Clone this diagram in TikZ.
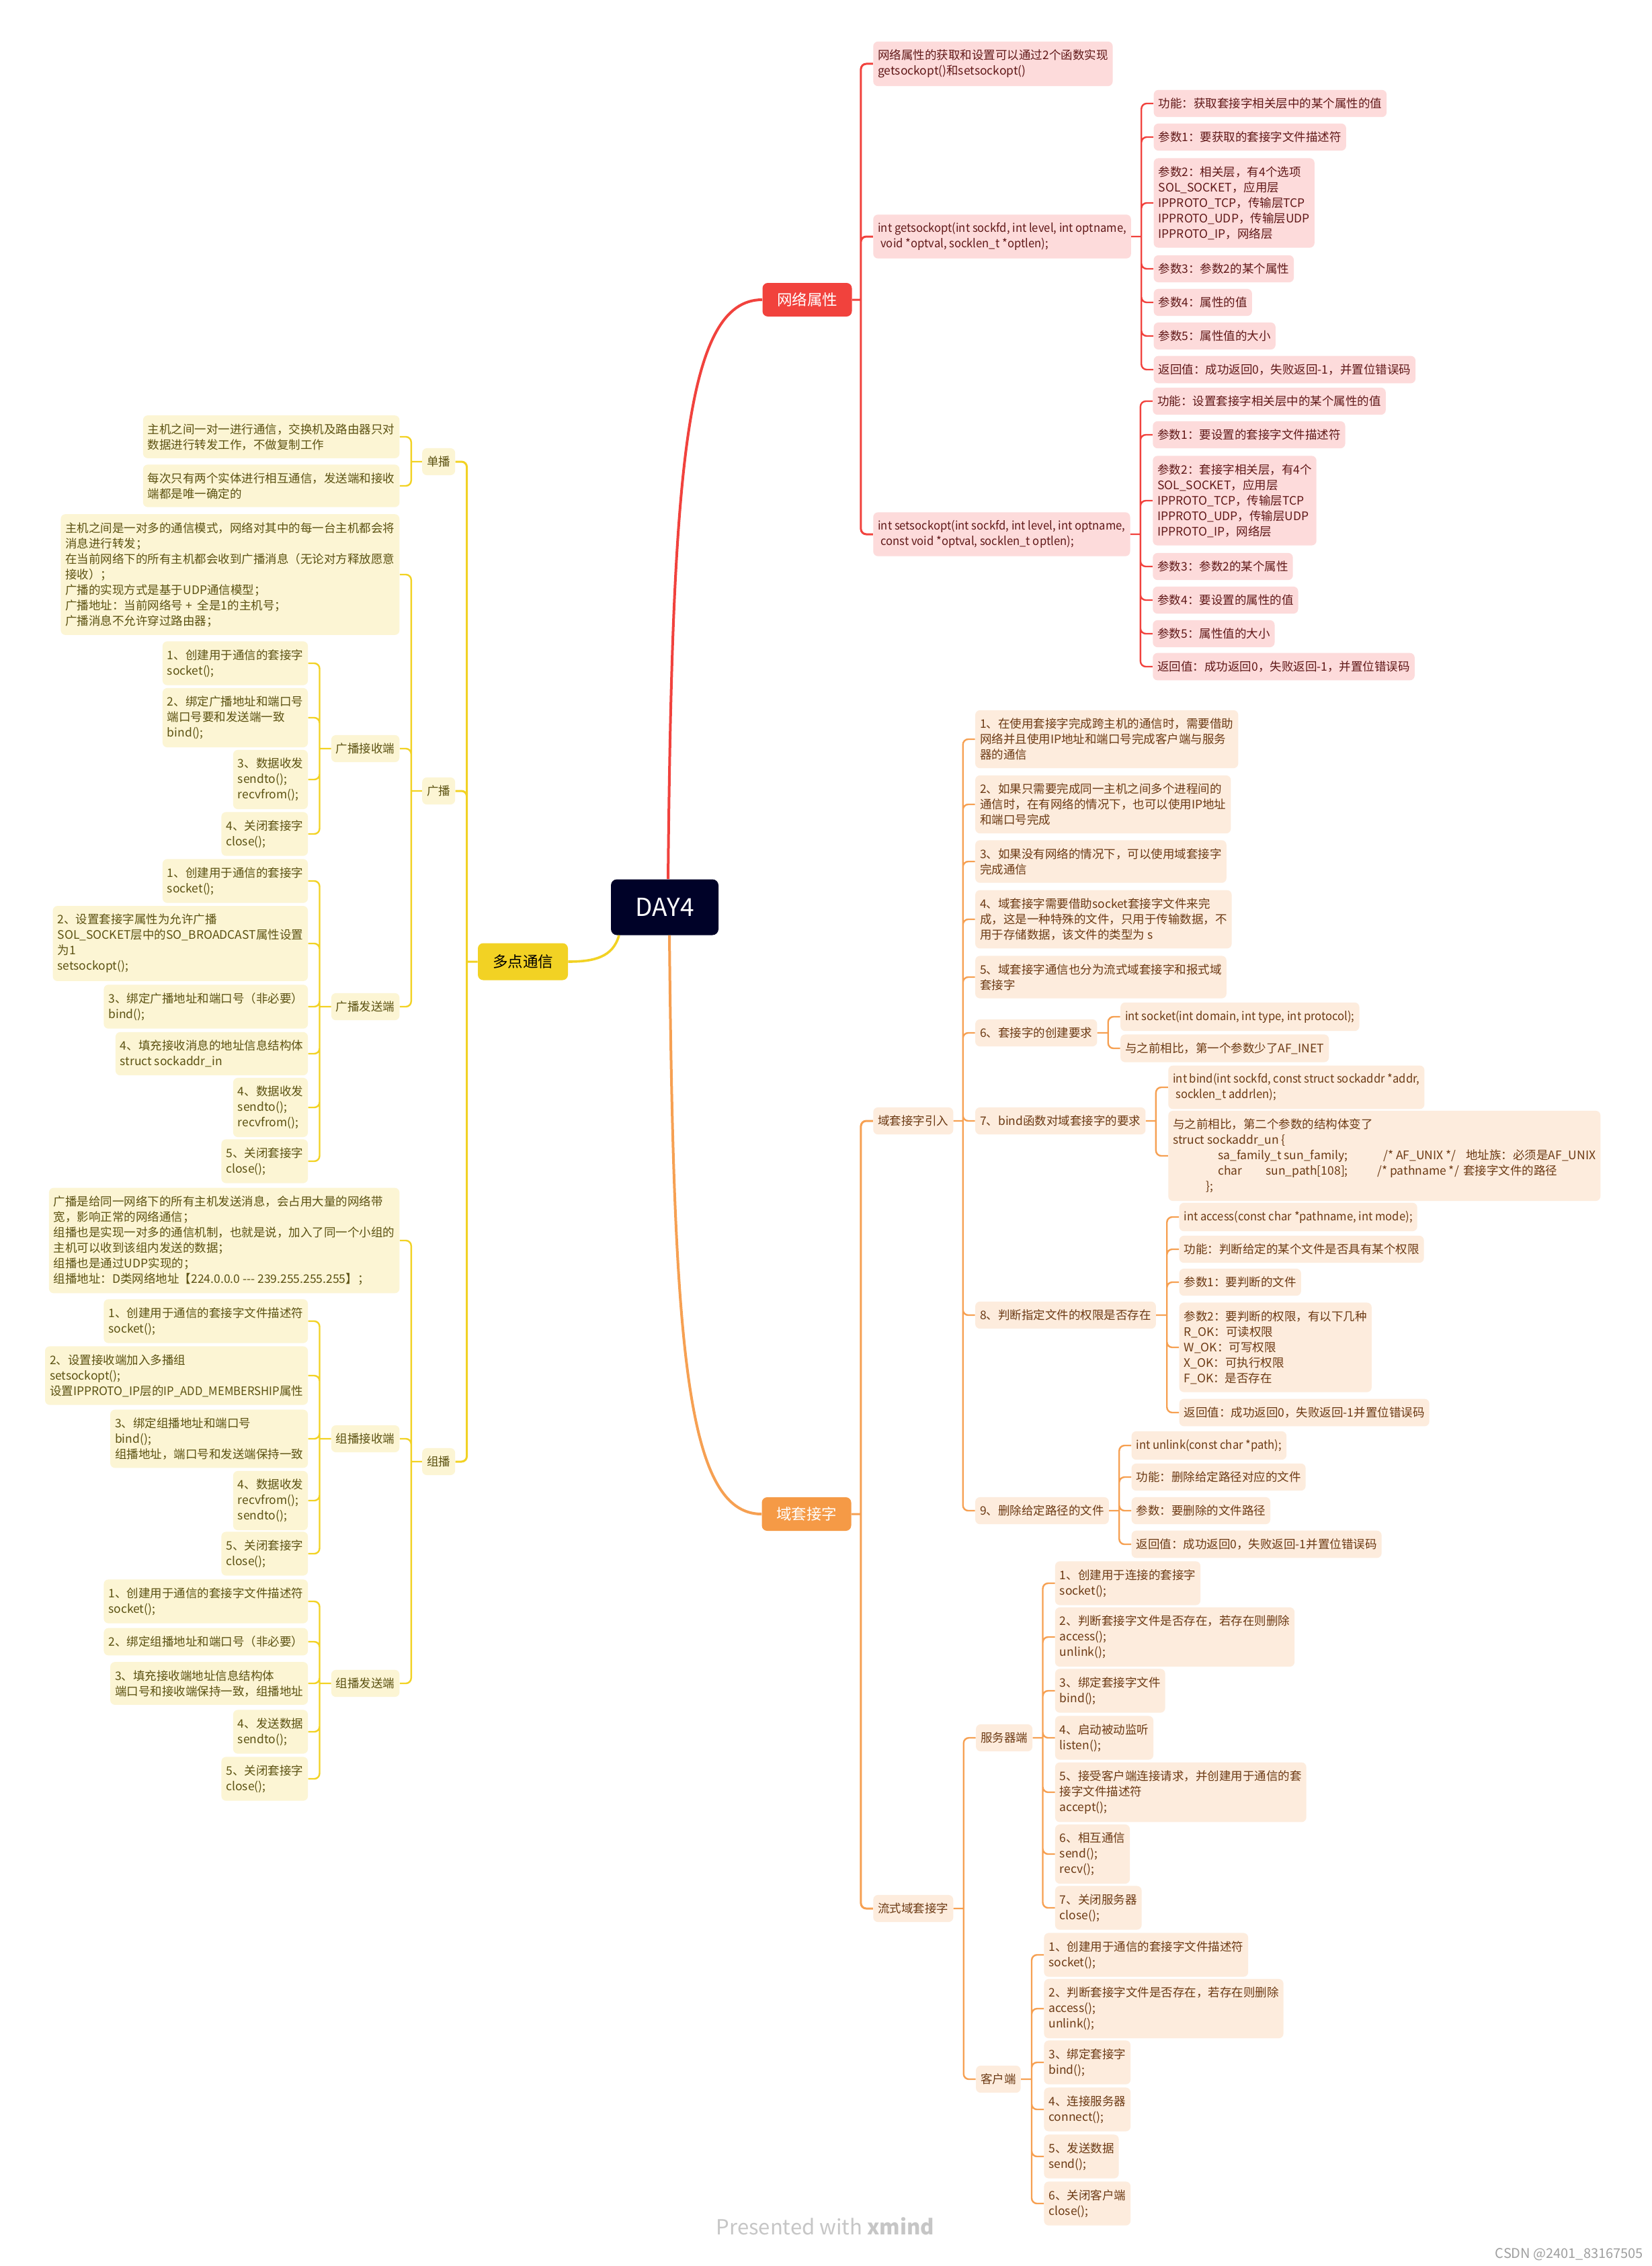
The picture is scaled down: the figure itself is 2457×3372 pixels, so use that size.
\documentclass[tikz,border=0pt]{standalone}
\usepackage{fontspec}
\setmainfont{Noto Sans CJK SC}
\newfontfamily\codefont{Noto Sans CJK SC}[FakeStretch=0.95]
\definecolor{redline}{RGB}{241,66,61}
\definecolor{redfill}{RGB}{253,219,219}
\definecolor{redtext}{RGB}{96,24,24}
\definecolor{orgline}{RGB}{246,160,82}
\definecolor{orgtopic}{RGB}{245,154,70}
\definecolor{orgfill}{RGB}{253,236,221}
\definecolor{orgtext}{RGB}{108,58,20}
\definecolor{yelline}{RGB}{242,210,36}
\definecolor{yelfill}{RGB}{252,245,212}
\definecolor{yeltext}{RGB}{92,82,18}
\definecolor{rootfill}{RGB}{0,2,40}

\begin{document}
\begin{tikzpicture}[x=0.5pt, y=-0.5pt,
    kid/.style={rounded corners=3.5pt, inner xsep=3.5pt, inner ysep=6pt, align=left,
                font=\fontsize{8.75}{11.5}\selectfont},
    code/.style={font=\codefont\fontsize{8.75}{11.5}\selectfont},
    rkid/.style={kid, fill=redfill, text=redtext, anchor=west, xshift=9pt},
    okid/.style={kid, fill=orgfill, text=orgtext, anchor=west, xshift=9pt},
    ykid/.style={kid, fill=yelfill, text=yeltext, anchor=east, xshift=-8.5pt},
    topic/.style={rounded corners=4pt, minimum width=66.5pt, minimum height=25pt,
                  font=\fontsize{11.25}{13}\selectfont},
    rtopic/.style={topic, fill=redline, text=white},
    otopic/.style={topic, fill=orgtopic, text=white},
    ytopic/.style={topic, fill=yelline, text=black, minimum width=67pt, minimum height=27.5pt},
    root/.style={fill=rootfill, text=white, rounded corners=4.5pt, minimum width=80pt,
                 minimum height=41.5pt, font=\fontsize{18.5}{20}\selectfont},
    rline/.style={draw=redline, line width=1.2pt, rounded corners=4pt},
    oline/.style={draw=orgline, line width=1.2pt, rounded corners=4pt},
    yline/.style={draw=yelline, line width=1.2pt, rounded corners=4pt}]

\fill[white] (0,0) rectangle (2457,3372);
\useasboundingbox (0,0) rectangle (2457,3372);

% centre and main topics
\node[root] (day) at (989,1350) {DAY4};
\node[rtopic] (net) at (1201,446) {网络属性};
\node[otopic] (dom) at (1200,2253) {域套接字};
\node[ytopic] (multi) at (778,1431) {多点通信};

\draw[rline, line width=2pt] ([xshift=2.5pt]day.north) .. controls (1000,700) and (1020,446) .. (net.west);
\draw[oline, line width=2pt] ([xshift=3.5pt]day.south) .. controls (1002,2000) and (1020,2253) .. (dom.west);
\draw[yline, line width=1.8pt] ([xshift=-34pt]day.south) .. controls (912,1424) and (885,1431) .. (multi.east);

% ---------- 网络属性
\coordinate (net-s) at ([xshift=6.5pt]net.east);
\node[rkid] (netdesc) at (net-s |- 0,95) {网络属性的获取和设置可以通过2个函数实现\\getsockopt()和setsockopt()};
\node[rkid, code] (getopt) at (net-s |- 0,352) {int getsockopt(int sockfd, int level, int optname,\\\hspace*{2pt}void *optval, socklen\_t *optlen);};
\node[rkid, code] (setopt) at (net-s |- 0,795) {int setsockopt(int sockfd, int level, int optname,\\\hspace*{2pt}const void *optval, socklen\_t optlen);};

\coordinate (get-s) at ([xshift=7.5pt]getopt.east);
\node[rkid] (g1) at (get-s |- 0,154) {功能：获取套接字相关层中的某个属性的值};
\node[rkid] (g2) at (get-s |- 0,204) {参数1：要获取的套接字文件描述符};
\node[rkid] (g3) at (get-s |- 0,302) {参数2：相关层，有4个选项\\SOL\_SOCKET，应用层\\IPPROTO\_TCP，传输层TCP\\IPPROTO\_UDP，传输层UDP\\IPPROTO\_IP，网络层};
\node[rkid] (g4) at (get-s |- 0,400) {参数3：参数2的某个属性};
\node[rkid] (g5) at (get-s |- 0,450) {参数4：属性的值};
\node[rkid] (g6) at (get-s |- 0,500) {参数5：属性值的大小};
\node[rkid] (g7) at (get-s |- 0,550) {返回值：成功返回0，失败返回-1，并置位错误码};

\coordinate (set-s) at ([xshift=7.5pt]setopt.east);
\node[rkid] (s1) at (set-s |- 0,597) {功能：设置套接字相关层中的某个属性的值};
\node[rkid] (s2) at (set-s |- 0,647) {参数1：要设置的套接字文件描述符};
\node[rkid] (s3) at (set-s |- 0,745) {参数2：套接字相关层，有4个\\SOL\_SOCKET，应用层\\IPPROTO\_TCP，传输层TCP\\IPPROTO\_UDP，传输层UDP\\IPPROTO\_IP，网络层};
\node[rkid] (s4) at (set-s |- 0,843) {参数3：参数2的某个属性};
\node[rkid] (s5) at (set-s |- 0,893) {参数4：要设置的属性的值};
\node[rkid] (s6) at (set-s |- 0,943) {参数5：属性值的大小};
\node[rkid] (s7) at (set-s |- 0,992) {返回值：成功返回0，失败返回-1，并置位错误码};

\draw[rline, line width=1.5pt] (net.east) -- (net-s) (net-s) |- (netdesc.west) (net-s) |- (getopt.west) (net-s) |- (setopt.west);
\draw[rline] (getopt.east) -- (get-s) (get-s) |- (g1.west) (get-s) |- (g2.west) (get-s) |- (g3.west)
  (get-s) |- (g4.west) (get-s) |- (g5.west) (get-s) |- (g6.west) (get-s) |- (g7.west);
\draw[rline] (setopt.east) -- (set-s) (set-s) |- (s1.west) (set-s) |- (s2.west) (set-s) |- (s3.west)
  (set-s) |- (s4.west) (set-s) |- (s5.west) (set-s) |- (s6.west) (set-s) |- (s7.west);

% ---------- 域套接字
\coordinate (dom-s) at ([xshift=7pt]dom.east);
\node[okid] (intro) at (dom-s |- 0,1668) {域套接字引入};
\node[okid] (stream) at (dom-s |- 0,2840) {流式域套接字};

\coordinate (intro-s) at ([xshift=7pt]intro.east);
\node[okid] (i1) at (intro-s |- 0,1100) {1、在使用套接字完成跨主机的通信时，需要借助\\网络并且使用IP地址和端口号完成客户端与服务\\器的通信};
\node[okid] (i2) at (intro-s |- 0,1197) {2、如果只需要完成同一主机之间多个进程间的\\通信时，在有网络的情况下，也可以使用IP地址\\和端口号完成};
\node[okid] (i3) at (intro-s |- 0,1282) {3、如果没有网络的情况下，可以使用域套接字\\完成通信};
\node[okid] (i4) at (intro-s |- 0,1368) {4、域套接字需要借助socket套接字文件来完\\成，这是一种特殊的文件，只用于传输数据，不\\用于存储数据，该文件的类型为 s};
\node[okid] (i5) at (intro-s |- 0,1454) {5、域套接字通信也分为流式域套接字和报式域\\套接字};
\node[okid] (i6) at (intro-s |- 0,1537) {6、套接字的创建要求};
\node[okid] (i7) at (intro-s |- 0,1668) {7、bind函数对域套接字的要求};
\node[okid] (i8) at (intro-s |- 0,1957) {8、判断指定文件的权限是否存在};
\node[okid] (i9) at (intro-s |- 0,2248) {9、删除给定路径的文件};

\coordinate (i6-s) at ([xshift=8pt]i6.east);
\node[okid, code] (i6a) at (i6-s |- 0,1513) {int socket(int domain, int type, int protocol);};
\node[okid] (i6b) at (i6-s |- 0,1560) {与之前相比，第一个参数少了AF\_INET};

\coordinate (i7-s) at ([xshift=7.5pt]i7.east);
\node[okid, code] (i7a) at (i7-s |- 0,1618) {int bind(int sockfd, const struct sockaddr *addr,\\\hspace*{2pt}socklen\_t addrlen);};
\node[okid] (i7b) at (i7-s |- 0,1720) {与之前相比，第二个参数的结构体变了\\struct sockaddr\_un \{\\
\hspace*{33.5pt}\makebox[123pt][l]{sa\_family\_t sun\_family;}\makebox[61.5pt][l]{/* AF\_UNIX */}地址族：必须是AF\_UNIX\\
\hspace*{33.5pt}\makebox[35.5pt][l]{char}\makebox[83pt][l]{sun\_path[108];}\makebox[64pt][l]{/* pathname */}套接字文件的路径\\
\hspace*{24.5pt}\};};

\coordinate (i8-s) at ([xshift=8pt]i8.east);
\node[okid, code] (i8a) at (i8-s |- 0,1811) {int access(const char *pathname, int mode);};
\node[okid] (i8b) at (i8-s |- 0,1859) {功能：判断给定的某个文件是否具有某个权限};
\node[okid] (i8c) at (i8-s |- 0,1908) {参数1：要判断的文件};
\node[okid] (i8d) at (i8-s |- 0,2005) {参数2：要判断的权限，有以下几种\\R\_OK：可读权限\\W\_OK：可写权限\\X\_OK：可执行权限\\F\_OK：是否存在};
\node[okid] (i8e) at (i8-s |- 0,2102) {返回值：成功返回0，失败返回-1并置位错误码};

\coordinate (i9-s) at ([xshift=7.5pt]i9.east);
\node[okid, code] (i9a) at (i9-s |- 0,2151) {int unlink(const char *path);};
\node[okid] (i9b) at (i9-s |- 0,2198) {功能：删除给定路径对应的文件};
\node[okid] (i9c) at (i9-s |- 0,2248) {参数：要删除的文件路径};
\node[okid] (i9d) at (i9-s |- 0,2298) {返回值：成功返回0，失败返回-1并置位错误码};

\coordinate (stream-s) at ([xshift=7.5pt]stream.east);
\node[okid] (server) at (stream-s |- 0,2586) {服务器端};
\node[okid] (client) at (stream-s |- 0,3094) {客户端};

\coordinate (server-s) at ([xshift=7.5pt]server.east);
\node[okid] (sv1) at (server-s |- 0,2356) {1、创建用于连接的套接字\\socket();};
\node[okid] (sv2) at (server-s |- 0,2436) {2、判断套接字文件是否存在，若存在则删除\\access();\\unlink();};
\node[okid] (sv3) at (server-s |- 0,2516) {3、绑定套接字文件\\bind();};
\node[okid] (sv4) at (server-s |- 0,2586) {4、启动被动监听\\listen();};
\node[okid] (sv5) at (server-s |- 0,2667) {5、接受客户端连接请求，并创建用于通信的套\\接字文件描述符\\accept();};
\node[okid] (sv6) at (server-s |- 0,2759) {6、相互通信\\send();\\recv();};
\node[okid] (sv7) at (server-s |- 0,2839) {7、关闭服务器\\close();};

\coordinate (client-s) at ([xshift=8pt]client.east);
\node[okid] (cl1) at (client-s |- 0,2909) {1、创建用于通信的套接字文件描述符\\socket();};
\node[okid] (cl2) at (client-s |- 0,2989) {2、判断套接字文件是否存在，若存在则删除\\access();\\unlink();};
\node[okid] (cl3) at (client-s |- 0,3069) {3、绑定套接字\\bind();};
\node[okid] (cl4) at (client-s |- 0,3139) {4、连接服务器\\connect();};
\node[okid] (cl5) at (client-s |- 0,3209) {5、发送数据\\send();};
\node[okid] (cl6) at (client-s |- 0,3279) {6、关闭客户端\\close();};

\draw[oline, line width=1.5pt] (dom.east) -- (dom-s) (dom-s) |- (intro.west) (dom-s) |- (stream.west);
\draw[oline] (intro.east) -- (intro-s) (intro-s) |- (i1.west) (intro-s) |- (i2.west) (intro-s) |- (i3.west)
  (intro-s) |- (i4.west) (intro-s) |- (i5.west) (intro-s) |- (i6.west) (intro-s) |- (i7.west)
  (intro-s) |- (i8.west) (intro-s) |- (i9.west);
\draw[oline] (i6.east) -- (i6-s) (i6-s) |- (i6a.west) (i6-s) |- (i6b.west);
\draw[oline] (i7.east) -- (i7-s) (i7-s) |- (i7a.west) (i7-s) |- (i7b.west);
\draw[oline] (i8.east) -- (i8-s) (i8-s) |- (i8a.west) (i8-s) |- (i8b.west) (i8-s) |- (i8c.west)
  (i8-s) |- (i8d.west) (i8-s) |- (i8e.west);
\draw[oline] (i9.east) -- (i9-s) (i9-s) |- (i9a.west) (i9-s) |- (i9b.west) (i9-s) |- (i9c.west) (i9-s) |- (i9d.west);
\draw[oline] (stream.east) -- (stream-s) (stream-s) |- (server.west) (stream-s) |- (client.west);
\draw[oline] (server.east) -- (server-s) (server-s) |- (sv1.west) (server-s) |- (sv2.west) (server-s) |- (sv3.west)
  (server-s) |- (sv4.west) (server-s) |- (sv5.west) (server-s) |- (sv6.west) (server-s) |- (sv7.west);
\draw[oline] (client.east) -- (client-s) (client-s) |- (cl1.west) (client-s) |- (cl2.west) (client-s) |- (cl3.west)
  (client-s) |- (cl4.west) (client-s) |- (cl5.west) (client-s) |- (cl6.west);

% ---------- 多点通信
\coordinate (multi-s) at ([xshift=-8pt]multi.west);
\node[ykid] (uni) at (multi-s |- 0,687) {单播};
\node[ykid] (bc) at (multi-s |- 0,1177) {广播};
\node[ykid] (mc) at (multi-s |- 0,2175) {组播};

\coordinate (uni-s) at ([xshift=-8pt]uni.west);
\node[ykid] (uni1) at (uni-s |- 0,650) {主机之间一对一进行通信，交换机及路由器只对\\数据进行转发工作，不做复制工作};
\node[ykid] (uni2) at (uni-s |- 0,723) {每次只有两个实体进行相互通信，发送端和接收\\端都是唯一确定的};

\coordinate (bc-s) at ([xshift=-8pt]bc.west);
\node[ykid] (bcdesc) at (bc-s |- 0,855) {主机之间是一对多的通信模式，网络对其中的每一台主机都会将\\消息进行转发；\\在当前网络下的所有主机都会收到广播消息（无论对方释放愿意\\接收）；\\广播的实现方式是基于UDP通信模型；\\广播地址：当前网络号 +\ \ 全是1的主机号；\\广播消息不允许穿过路由器；};
\node[ykid] (bcrecv) at (bc-s |- 0,1114) {广播接收端};
\node[ykid] (bcsend) at (bc-s |- 0,1498) {广播发送端};

\coordinate (bcrecv-s) at ([xshift=-8.5pt]bcrecv.west);
\node[ykid] (bcr1) at (bcrecv-s |- 0,987) {1、创建用于通信的套接字\\socket();};
\node[ykid] (bcr2) at (bcrecv-s |- 0,1068) {2、绑定广播地址和端口号\\端口号要和发送端一致\\bind();};
\node[ykid] (bcr3) at (bcrecv-s |- 0,1160) {3、数据收发\\sendto();\\recvfrom();};
\node[ykid] (bcr4) at (bcrecv-s |- 0,1241) {4、关闭套接字\\close();};

\coordinate (bcsend-s) at ([xshift=-8.5pt]bcsend.west);
\node[ykid] (bcs1) at (bcsend-s |- 0,1311) {1、创建用于通信的套接字\\socket();};
\node[ykid] (bcs2) at (bcsend-s |- 0,1404) {2、设置套接字属性为允许广播\\SOL\_SOCKET层中的SO\_BROADCAST属性设置\\为1\\setsockopt();};
\node[ykid] (bcs3) at (bcsend-s |- 0,1498) {3、绑定广播地址和端口号（非必要）\\bind();};
\node[ykid] (bcs4) at (bcsend-s |- 0,1568) {4、填充接收消息的地址信息结构体\\struct sockaddr\_in};
\node[ykid] (bcs5) at (bcsend-s |- 0,1648) {4、数据收发\\sendto();\\recvfrom();};
\node[ykid] (bcs6) at (bcsend-s |- 0,1728) {5、关闭套接字\\close();};

\coordinate (mc-s) at ([xshift=-8pt]mc.west);
\node[ykid] (mcdesc) at (mc-s |- 0,1846) {广播是给同一网络下的所有主机发送消息，会占用大量的网络带\\宽，影响正常的网络通信；\\组播也是实现一对多的通信机制，也就是说，加入了同一个小组的\\主机可以收到该组内发送的数据；\\组播也是通过UDP实现的；\\组播地址：D类网络地址【224.0.0.0 \mbox{-}\mbox{-}\mbox{-} 239.255.255.255】；};
\node[ykid] (mcrecv) at (mc-s |- 0,2141) {组播接收端};
\node[ykid] (mcsend) at (mc-s |- 0,2505) {组播发送端};

\coordinate (mcrecv-s) at ([xshift=-8.5pt]mcrecv.west);
\node[ykid] (mcr1) at (mcrecv-s |- 0,1966) {1、创建用于通信的套接字文件描述符\\socket();};
\node[ykid] (mcr2) at (mcrecv-s |- 0,2047) {2、设置接收端加入多播组\\setsockopt();\\设置IPPROTO\_IP层的{\codefont IP\_ADD\_MEMBERSHIP}属性};
\node[ykid] (mcr3) at (mcrecv-s |- 0,2141) {3、绑定组播地址和端口号\\bind();\\组播地址，端口号和发送端保持一致};
\node[ykid] (mcr4) at (mcrecv-s |- 0,2233) {4、数据收发\\recvfrom();\\sendto();};
\node[ykid] (mcr5) at (mcrecv-s |- 0,2312) {5、关闭套接字\\close();};

\coordinate (mcsend-s) at ([xshift=-8.5pt]mcsend.west);
\node[ykid] (mcs1) at (mcsend-s |- 0,2383) {1、创建用于通信的套接字文件描述符\\socket();};
\node[ykid] (mcs2) at (mcsend-s |- 0,2443) {2、绑定组播地址和端口号（非必要）};
\node[ykid] (mcs3) at (mcsend-s |- 0,2505) {3、填充接收端地址信息结构体\\端口号和接收端保持一致，组播地址};
\node[ykid] (mcs4) at (mcsend-s |- 0,2577) {4、发送数据\\sendto();};
\node[ykid] (mcs5) at (mcsend-s |- 0,2647) {5、关闭套接字\\close();};

\draw[yline, line width=1.5pt] (multi.west) -- (multi-s) (multi-s) |- (uni.east) (multi-s) |- (bc.east) (multi-s) |- (mc.east);
\draw[yline] (uni.west) -- (uni-s) (uni-s) |- (uni1.east) (uni-s) |- (uni2.east);
\draw[yline] (bc.west) -- (bc-s) (bc-s) |- (bcdesc.east) (bc-s) |- (bcrecv.east) (bc-s) |- (bcsend.east);
\draw[yline] (bcrecv.west) -- (bcrecv-s) (bcrecv-s) |- (bcr1.east) (bcrecv-s) |- (bcr2.east)
  (bcrecv-s) |- (bcr3.east) (bcrecv-s) |- (bcr4.east);
\draw[yline] (bcsend.west) -- (bcsend-s) (bcsend-s) |- (bcs1.east) (bcsend-s) |- (bcs2.east) (bcsend-s) |- (bcs3.east)
  (bcsend-s) |- (bcs4.east) (bcsend-s) |- (bcs5.east) (bcsend-s) |- (bcs6.east);
\draw[yline] (mc.west) -- (mc-s) (mc-s) |- (mcdesc.east) (mc-s) |- (mcrecv.east) (mc-s) |- (mcsend.east);
\draw[yline] (mcrecv.west) -- (mcrecv-s) (mcrecv-s) |- (mcr1.east) (mcrecv-s) |- (mcr2.east) (mcrecv-s) |- (mcr3.east)
  (mcrecv-s) |- (mcr4.east) (mcrecv-s) |- (mcr5.east);
\draw[yline] (mcsend.west) -- (mcsend-s) (mcsend-s) |- (mcs1.east) (mcsend-s) |- (mcs2.east) (mcsend-s) |- (mcs3.east)
  (mcsend-s) |- (mcs4.east) (mcsend-s) |- (mcs5.east);

% footer
\node[anchor=base, text=gray!45, font=\fontsize{15.5}{18}\selectfont] (brand) at (1228,3325) {Presented with \textbf{xmind}};
\node[anchor=base east, text=gray!75, font=\fontsize{10}{12}\selectfont] (mark) at (2452,3360) {CSDN @2401\_83167505};
\end{tikzpicture}
\end{document}
